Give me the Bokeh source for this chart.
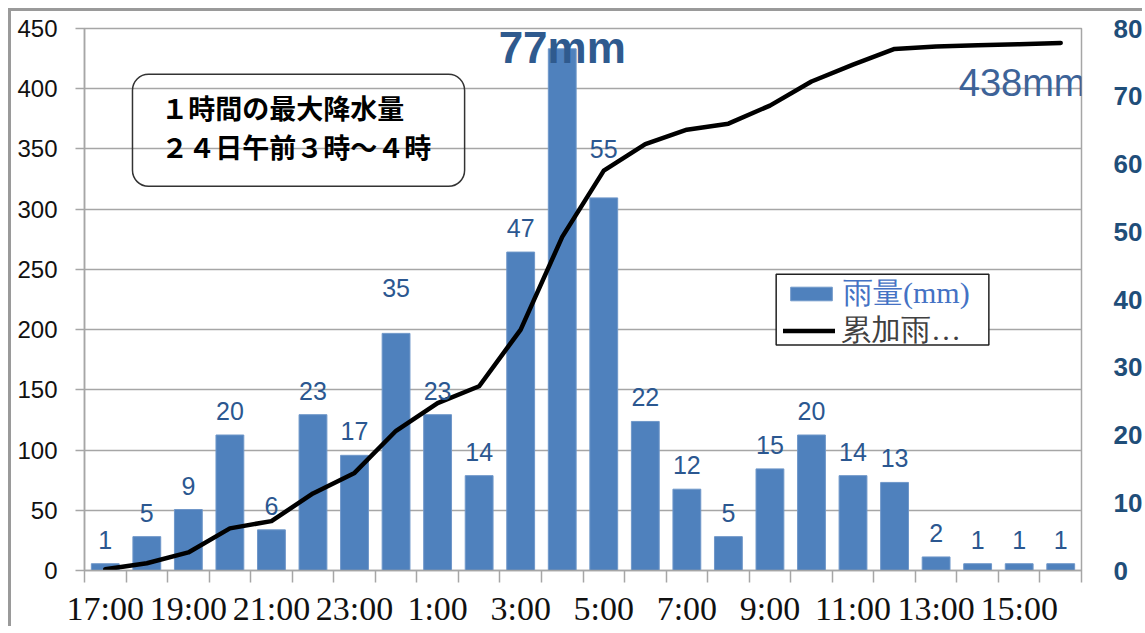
from bokeh.plotting import figure
from bokeh.models import (Range1d, LinearAxis, FixedTicker, ColumnDataSource, Legend,
                          LegendItem, BoxAnnotation, Label, LabelSet)
from bokeh.core.properties import value
from bokeh.embed import file_html
from bokeh.resources import INLINE

# ---- data ----
hours = ["17:00", "18:00", "19:00", "20:00", "21:00", "22:00", "23:00", "0:00",
         "1:00", "2:00", "3:00", "4:00", "5:00", "6:00", "7:00", "8:00",
         "9:00", "10:00", "11:00", "12:00", "13:00", "14:00", "15:00", "16:00"]
rain = [1, 5, 9, 20, 6, 23, 17, 35, 23, 14, 47, 77, 55, 22, 12, 5, 15, 20, 14, 13, 2, 1, 1, 1]
cumulative = [1, 6, 15, 35, 41, 64, 81, 116, 139, 153, 200, 277, 332, 354, 366, 371,
              386, 406, 420, 433, 435, 436, 437, 438]
left_ticks = [0, 50, 100, 150, 200, 250, 300, 350, 400, 450]
right_ticks = [0, 10, 20, 30, 40, 50, 60, 70, 80]
box_lines = ["１時間の最大降水量", "２４日午前３時～４時"]
peak_text = "77mm"
total_text = "438mm"
legend_labels = ["雨量(mm)", "累加雨…"]

GRID = "#A6A6A6"
BAR = "#4F81BD"
LBL = "#2B5790"

n = len(hours)
xs = [i + 0.5 for i in range(n)]
label_text = [str(v) if v != max(rain) else "" for v in rain]
dy = [15] * n
dy[7] = 36
dy[12] = 40
src = ColumnDataSource(dict(x=xs, rain=rain, cum=cumulative, lbl=label_text, dy=dy))

p = figure(width=1134, height=618, output_backend="svg", toolbar_location=None,
           x_range=Range1d(0, n), y_range=Range1d(0, 450),
           min_border_left=73, min_border_right=62, min_border_top=17, min_border_bottom=58)
p.styles = {"margin-top": "8px", "margin-left": "8px",
            "border-top": "3px solid #9a9a9a", "border-left": "3px solid #9a9a9a"}
p.extra_y_ranges = {"rain": Range1d(0, 80)}
p.outline_line_color = GRID
p.outline_line_width = 1.5
p.background_fill_color = "white"
p.border_fill_color = "white"

# grid
p.xgrid.grid_line_color = None
p.ygrid.grid_line_color = GRID
p.ygrid.grid_line_width = 1.5
p.ygrid.ticker = FixedTicker(ticks=left_ticks)

# x axis
xa = p.xaxis[0]
xa.ticker = FixedTicker(ticks=[xs[i] for i in range(0, n, 2)], minor_ticks=list(range(n + 1)))
xa.major_label_overrides = {xs[i]: hours[i] for i in range(0, n, 2)}
xa.major_tick_out = 12
xa.major_tick_in = 0
xa.major_tick_line_color = None
xa.minor_tick_out = 12
xa.minor_tick_in = 0
xa.minor_tick_line_color = GRID
xa.minor_tick_line_width = 1.5
xa.axis_line_color = GRID
xa.axis_line_width = 1.5
xa.major_label_standoff = 7
xa.major_label_text_font = "Liberation Serif"
xa.major_label_text_font_size = "34px"
xa.major_label_text_color = "#111111"

# left axis
ya = p.yaxis[0]
ya.ticker = FixedTicker(ticks=left_ticks)
ya.major_tick_out = 9
ya.major_tick_in = 0
ya.major_tick_line_color = GRID
ya.major_tick_line_width = 1.5
ya.minor_tick_line_color = None
ya.axis_line_color = GRID
ya.axis_line_width = 1.5
ya.major_label_standoff = 18
ya.major_label_text_font = "Liberation Sans"
ya.major_label_text_font_size = "24px"
ya.major_label_text_color = "#111111"

# right axis
ra = LinearAxis(y_range_name="rain", ticker=FixedTicker(ticks=right_ticks))
ra.major_tick_out = 0
ra.major_tick_in = 0
ra.minor_tick_line_color = None
ra.major_tick_line_color = None
ra.axis_line_color = None
ra.major_label_standoff = 32
ra.major_label_text_font = "Liberation Sans"
ra.major_label_text_font_style = "bold"
ra.major_label_text_font_size = "26px"
ra.major_label_text_color = "#1F4E79"
p.add_layout(ra, "right")

# bars and line
r_bar = p.vbar(x="x", top="rain", width=0.67, source=src, y_range_name="rain",
               fill_color=BAR, line_color="#6F97C9", line_width=1)
r_line = p.line(x="x", y="cum", source=src, line_color="black", line_width=4.5,
                line_join="round", line_cap="round")

labels = LabelSet(x="x", y="rain", text="lbl", y_range_name="rain", y_offset="dy",
                  source=src, text_align="center", text_baseline="bottom",
                  text_font=value("Liberation Sans"), text_font_size=value("25px"),
                  text_color=LBL)
p.add_layout(labels)

imax = rain.index(max(rain))
p.add_layout(Label(x=xs[imax], y=434, text=peak_text, text_align="center",
                   text_baseline="middle", text_font="Liberation Sans",
                   text_font_style="bold", text_font_size="44px", text_color="#2F5A8E"))
p.add_layout(Label(x=n, y=405, x_offset=4, text=total_text, text_align="right",
                   text_baseline="middle", text_font="Liberation Sans",
                   text_font_size="38px", text_color="#3D6398"))

# rounded text box
p.add_layout(BoxAnnotation(left=1.155, right=9.15, top=412, bottom=319,
                           border_radius=16, fill_alpha=0, line_color="#333333",
                           line_width=1.5, line_alpha=1))
p.add_layout(Label(x=1.85, y=384, text=box_lines[0], text_align="left",
                   text_baseline="middle", text_font="Noto Sans CJK JP",
                   text_font_style="bold", text_font_size="27px", text_color="black"))
p.add_layout(Label(x=1.85, y=352, text=box_lines[1], text_align="left",
                   text_baseline="middle", text_font="Noto Sans CJK JP",
                   text_font_style="bold", text_font_size="27px", text_color="black"))

# legend frame + legends
p.add_layout(BoxAnnotation(left=16.65, right=21.77, top=246, bottom=187.3,
                           fill_color="white", fill_alpha=1, line_color="#222222",
                           line_width=1.5, line_alpha=1))
common = dict(padding=0, margin=0, spacing=0, border_line_color=None,
              background_fill_alpha=0, glyph_width=52, glyph_height=17,
              label_standoff=6, label_text_font="Liberation Serif",
              label_text_font_size="30px", label_height=30)
leg1 = Legend(items=[LegendItem(label=legend_labels[0], renderers=[r_bar])],
              location=(701, 256), label_text_color="#4472C4", **common)
leg2 = Legend(items=[LegendItem(label=legend_labels[1], renderers=[r_line])],
              location=(699, 219), label_text_color="#404040", **common)
p.add_layout(leg1)
p.add_layout(leg2)

open("out.html", "w").write(file_html(p, INLINE))
